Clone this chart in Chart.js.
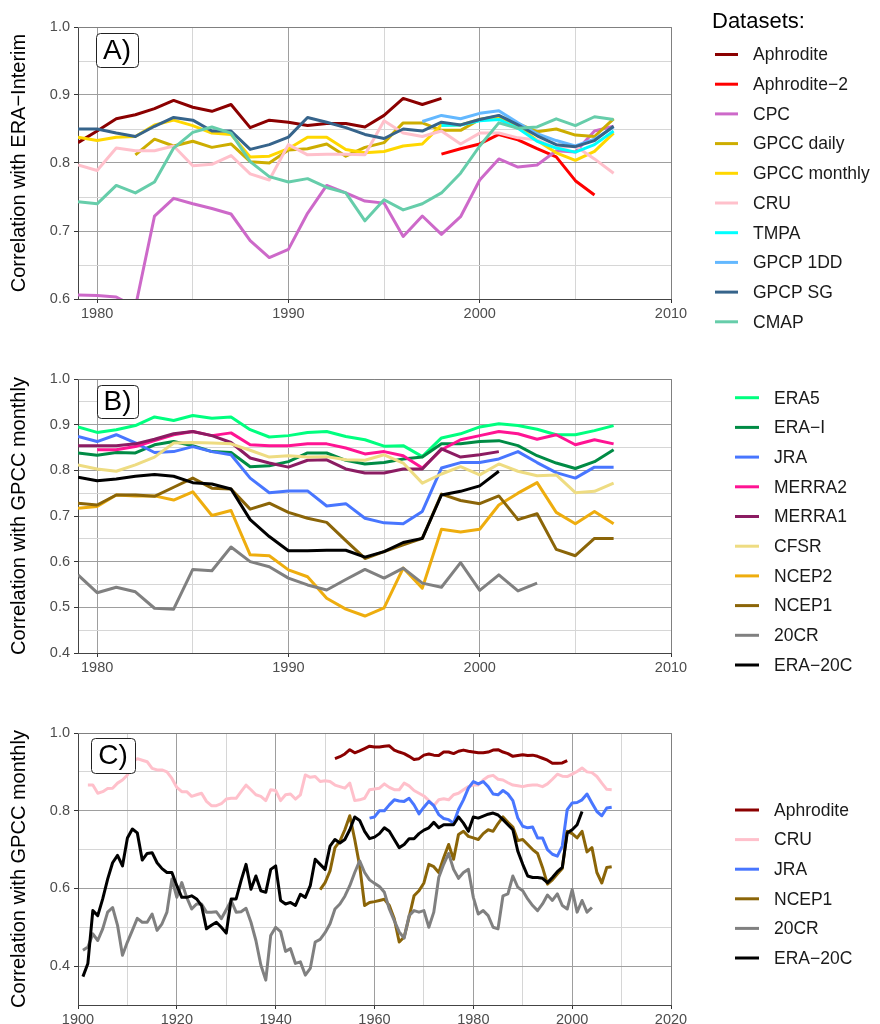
<!DOCTYPE html>
<html><head><meta charset="utf-8">
<script src="https://cdn.jsdelivr.net/npm/chart.js@4.4.1/dist/chart.umd.min.js"></script>
<style>
html,body{margin:0;padding:0;background:#fff;}
#wrap{position:relative;width:880px;height:1024px;overflow:hidden;background:#fff;}
canvas{position:absolute;left:0;}
</style></head><body>
<div id="wrap">
<canvas id="cA" width="880" height="345" style="top:0px;width:880px;height:345px"></canvas>
<canvas id="cB" width="880" height="345" style="top:345px;width:880px;height:345px"></canvas>
<canvas id="cC" width="880" height="334" style="top:690px;width:880px;height:334px"></canvas>
</div>
<script>
// ---------------- DATA ----------------
const yearsAB = [1979,1980,1981,1982,1983,1984,1985,1986,1987,1988,1989,1990,1991,1992,1993,1994,1995,1996,1997,1998,1999,2000,2001,2002,2003,2004,2005,2006,2007];

// Panel A: correlation with ERA-Interim
const A_Aphrodite   = [0.830,0.847,0.865,0.871,0.880,0.892,0.882,0.876,0.886,0.852,0.863,0.860,0.855,0.858,0.858,0.853,0.870,0.895,0.886,0.895,null,null,null,null,null,null,null,null,null];
const A_Aphrodite2  = [null,null,null,null,null,null,null,null,null,null,null,null,null,null,null,null,null,null,null,0.813,0.821,0.828,0.842,0.834,0.821,0.809,0.774,0.753,null];
const A_CPC         = [0.606,0.605,0.603,0.588,0.722,0.748,0.740,0.733,0.725,0.686,0.661,0.673,0.726,0.767,0.756,0.744,0.741,0.692,0.722,0.695,0.721,0.775,0.806,0.794,0.797,0.818,0.816,0.847,0.854];
const A_GPCCdaily   = [null,null,null,0.812,0.835,0.825,0.832,0.823,0.828,0.802,0.800,0.819,0.821,0.828,0.810,0.823,0.830,0.859,0.859,0.848,0.848,0.864,0.869,0.858,0.846,0.850,0.841,0.839,0.865];
const A_GPCCmonthly = [0.838,0.833,0.838,0.839,0.856,0.863,0.855,0.844,0.842,0.809,0.810,0.821,0.838,0.838,0.820,0.815,0.817,0.825,0.828,0.856,0.856,0.864,0.866,0.854,0.833,0.815,0.804,0.817,0.844];
const A_CRU         = [0.797,0.789,0.822,0.818,0.818,0.825,0.796,0.798,0.811,0.784,0.775,0.827,0.812,0.813,0.813,0.812,0.862,0.844,0.839,0.847,0.828,0.844,0.844,0.837,0.834,0.822,0.825,0.806,0.785];
const A_TMPA        = [null,null,null,null,null,null,null,null,null,null,null,null,null,null,null,null,null,null,null,0.855,0.856,0.862,0.864,0.851,0.832,0.822,0.816,0.827,0.847];
const A_GPCP1DD     = [null,null,null,null,null,null,null,null,null,null,null,null,null,null,null,null,null,null,0.861,0.870,0.865,0.873,0.877,0.859,0.843,0.833,0.825,0.835,0.853];
const A_GPCPSG      = [0.850,0.850,0.844,0.839,0.854,0.867,0.863,0.847,0.847,0.820,0.827,0.838,0.867,0.860,0.852,0.842,0.836,0.850,0.847,0.860,0.856,0.864,0.870,0.856,0.840,0.827,0.824,0.833,0.854];
const A_CMAP        = [0.743,0.740,0.767,0.756,0.772,0.822,0.845,0.853,0.844,0.802,0.780,0.772,0.777,0.764,0.756,0.715,0.746,0.731,0.740,0.756,0.785,0.825,0.859,0.851,0.853,0.865,0.855,0.868,0.864];

// Panel B: correlation with GPCC monthly (reanalyses)
const B_ERA5   = [0.895,0.883,0.889,0.898,0.917,0.909,0.920,0.914,0.917,0.889,0.873,0.876,0.883,0.885,0.874,0.867,0.853,0.854,0.830,0.871,0.880,0.895,0.902,0.898,0.890,0.878,0.878,0.887,0.898];
const B_ERAI   = [0.838,0.833,0.839,0.838,0.856,0.863,0.854,0.841,0.839,0.808,0.810,0.819,0.838,0.838,0.822,0.814,0.817,0.825,0.829,0.858,0.858,0.863,0.865,0.854,0.832,0.816,0.804,0.819,0.845];
const B_JRA    = [0.874,0.863,0.878,0.860,0.839,0.841,0.852,0.841,0.834,0.783,0.751,0.755,0.755,0.722,0.727,0.695,0.685,0.683,0.710,0.805,0.817,0.817,0.825,0.841,0.817,0.795,0.783,0.807,0.807];
const B_MERRA2 = [null,0.845,0.845,0.852,0.865,0.878,0.885,0.876,0.882,0.856,0.854,0.854,0.858,0.858,0.849,0.836,0.841,0.832,0.805,0.845,0.867,0.876,0.885,0.880,0.868,0.878,0.856,0.867,0.858];
const B_MERRA1 = [0.854,0.854,0.854,0.858,0.868,0.880,0.885,0.876,0.861,0.827,0.816,0.807,0.822,0.823,0.803,0.794,0.794,0.803,0.803,0.847,0.829,0.834,0.841,null,null,null,null,null,null];
const B_CFSR   = [0.812,0.803,0.798,0.812,0.829,0.860,0.861,0.860,0.858,0.844,0.829,0.832,0.829,0.830,0.823,0.822,0.834,0.816,0.772,0.792,0.808,0.790,0.814,0.798,0.788,0.790,0.751,0.754,0.772];
const B_NCEP2  = [0.717,0.721,0.746,0.744,0.744,0.735,0.753,0.701,0.712,0.615,0.613,0.582,0.567,0.520,0.496,0.481,0.499,0.586,0.542,0.671,0.665,0.671,0.724,0.750,0.773,0.708,0.683,0.710,0.683];
const B_NCEP1  = [0.728,0.724,0.746,0.746,0.743,0.763,0.783,0.761,0.759,0.715,0.728,0.708,0.695,0.686,0.646,0.607,0.622,0.637,0.651,0.748,0.734,0.727,0.744,0.692,0.705,0.627,0.613,0.651,0.651];
const B_20CR   = [0.571,0.532,0.544,0.534,0.498,0.496,0.583,0.580,0.632,0.600,0.589,0.564,0.549,0.538,0.561,0.583,0.564,0.586,0.553,0.544,0.598,0.537,0.571,0.536,0.553,null,null,null,null];
const B_ERA20C = [0.785,0.777,0.781,0.787,0.791,0.787,0.773,0.770,0.759,0.692,0.655,0.624,0.624,0.625,0.625,0.610,0.622,0.642,0.651,0.746,0.754,0.766,0.798,null,null,null,null,null,null];

// Panel C: long records, yearly values, each with its first year
const C_Aphrodite_start = 1952;
const C_Aphrodite = [0.934,0.939,0.946,0.957,0.949,0.954,0.960,0.966,
  0.964,0.964,0.966,0.967,0.956,0.951,0.947,0.940,0.932,0.934,
  0.943,0.946,0.943,0.942,0.951,0.951,0.947,0.953,0.956,0.953,
  0.951,0.949,0.949,0.951,0.956,0.957,0.951,0.947,0.940,0.942,
  0.944,0.942,0.943,0.940,0.935,0.930,0.922,0.922,0.923,0.929];
const C_CRU_start = 1902;
const C_CRU = [0.866,0.866,0.845,0.849,0.857,0.858,0.871,0.879,0.892,
  0.926,0.934,0.930,0.926,0.909,0.905,0.905,0.900,0.883,0.860,
  0.849,0.849,0.837,0.841,0.845,0.824,0.813,0.813,0.818,0.830,
  0.832,0.832,0.849,0.866,0.854,0.841,0.837,0.826,0.854,0.852,
  0.826,0.841,0.843,0.830,0.841,0.892,0.886,0.888,0.875,0.877,
  0.875,0.866,0.862,0.858,0.871,0.826,0.828,0.832,0.854,0.856,
  0.858,0.869,0.860,0.854,0.854,0.871,0.864,0.852,0.845,0.838,
  0.826,0.813,0.828,0.831,0.828,0.841,0.845,0.854,0.862,0.866,
  0.866,0.879,0.888,0.891,0.881,0.879,0.872,0.866,0.864,0.862,
  0.865,0.866,0.866,0.862,0.869,0.881,0.894,0.889,0.888,0.894,
  0.901,0.910,0.900,0.898,0.888,0.871,0.855,0.854];
const C_JRA_start = 1959;
const C_JRA = [0.781,0.784,0.800,0.800,0.815,0.828,0.825,0.824,0.832,0.815,0.792,
  0.809,0.824,0.813,0.790,0.780,0.777,0.768,0.803,0.828,0.858,
  0.875,0.869,0.875,0.862,0.843,0.841,0.852,0.843,0.826,0.781,
  0.760,0.756,0.758,0.730,0.730,0.700,0.688,0.683,0.709,0.803,
  0.820,0.821,0.828,0.843,0.820,0.798,0.787,0.807,0.809];
const C_NCEP1_start = 1949;
const C_NCEP1 = [0.597,0.615,0.645,0.705,0.722,0.751,0.787,0.726,0.658,0.556,0.564,
  0.566,0.569,0.572,0.556,0.522,0.462,0.475,0.526,0.581,0.594,
  0.614,0.662,0.656,0.641,0.679,0.713,0.675,0.739,0.747,0.734,
  0.730,0.726,0.741,0.751,0.747,0.767,0.784,0.770,0.758,0.723,
  0.726,0.713,0.700,0.690,0.654,0.611,0.622,0.637,0.651,0.747,
  0.741,0.730,0.747,0.694,0.705,0.641,0.614,0.654,0.656];
const C_20CR_start = 1901;
const C_20CR = [0.441,0.449,0.483,0.466,0.496,0.539,0.551,0.505,0.428,0.462,
  0.492,0.523,0.513,0.513,0.534,0.492,0.509,0.539,0.624,0.577,
  0.615,0.577,0.547,0.560,0.560,0.539,0.539,0.540,0.522,0.545,
  0.569,0.539,0.540,0.549,0.513,0.466,0.403,0.364,0.479,0.500,
  0.489,0.438,0.445,0.407,0.411,0.377,0.394,0.462,0.469,0.486,
  0.509,0.547,0.560,0.580,0.607,0.641,0.671,0.641,0.622,0.613,
  0.605,0.590,0.547,0.517,0.488,0.472,0.530,0.543,0.539,0.543,
  0.500,0.539,0.628,0.662,0.690,0.649,0.626,0.641,0.649,0.577,
  0.534,0.543,0.530,0.500,0.496,0.581,0.586,0.632,0.603,0.594,
  0.573,0.556,0.543,0.560,0.583,0.569,0.586,0.556,0.547,0.597,
  0.539,0.569,0.539,0.551];
const C_ERA20C_start = 1901;
const C_ERA20C = [0.373,0.407,0.543,0.530,0.573,0.624,0.666,0.685,0.658,0.730,
  0.753,0.743,0.673,0.690,0.692,0.666,0.651,0.641,0.641,0.607,
  0.577,0.577,0.581,0.573,0.556,0.496,0.505,0.513,0.500,0.485,
  0.573,0.573,0.620,0.662,0.598,0.632,0.594,0.590,0.649,0.658,
  0.569,0.560,0.564,0.556,0.585,0.577,0.607,0.675,0.662,0.649,
  0.709,0.726,0.717,0.726,0.751,0.784,0.775,0.747,0.728,0.732,
  0.741,0.756,0.747,0.726,0.705,0.713,0.728,0.728,0.741,0.750,
  0.756,0.770,0.756,0.764,0.764,0.764,0.784,0.768,0.747,0.784,
  0.781,0.786,0.791,0.794,0.789,0.777,0.764,0.751,0.696,0.662,
  0.632,0.628,0.628,0.626,0.615,0.628,0.643,0.654,0.743,0.751,
  0.764,0.798];

// Axis ticks / labels
const ticksAB_x = [1980,1985,1990,1995,2000,2005,2010];
const ticksC_x  = [1900,1910,1920,1930,1940,1950,1960,1970,1980,1990,2000,2010,2020];
const ticksA_y  = [0.6,0.65,0.7,0.75,0.8,0.85,0.9,0.95,1.0];
const ticksB_y  = [0.4,0.45,0.5,0.55,0.6,0.65,0.7,0.75,0.8,0.85,0.9,0.95,1.0];
const ticksC_y  = [0.3,0.4,0.5,0.6,0.7,0.8,0.9,1.0];

// ---------------- RENDERING ----------------
const FONT = "'Liberation Sans', Arial, Helvetica, sans-serif";
const MAJ = '#9e9e9e', MIN = '#d6d6d6';
function isMult(v, step){ const r = v/step; return Math.abs(r - Math.round(r)) < 1e-6; }
function fromYears(years, vals){ return years.map((y,i)=>({x:y, y:vals[i]})); }
function fromStart(start, vals){ return vals.map((v,i)=>({x:start+i, y:v})); }

function decoPlugin(o){
  return { id:'deco', afterDraw(chart){
    const ctx = chart.ctx, a = chart.chartArea;
    ctx.save();
    ctx.strokeStyle = '#808080'; ctx.lineWidth = 1;
    ctx.beginPath();
    ctx.moveTo(a.left, Math.round(a.top)+0.5);
    ctx.lineTo(Math.round(a.right)+0.5, Math.round(a.top)+0.5);
    ctx.lineTo(Math.round(a.right)+0.5, a.bottom);
    ctx.stroke();
    // panel tag
    const b = o.box;
    ctx.fillStyle = '#fff'; ctx.strokeStyle = '#222'; ctx.lineWidth = 1;
    ctx.beginPath();
    if (ctx.roundRect) ctx.roundRect(b.x+0.5, b.y+0.5, b.w, b.h, 4); else ctx.rect(b.x+0.5, b.y+0.5, b.w, b.h);
    ctx.fill(); ctx.stroke();
    ctx.fillStyle = '#000'; ctx.font = '28px ' + FONT; ctx.textAlign = 'center'; ctx.textBaseline = 'middle';
    ctx.fillText(o.tag, b.x + b.w/2, b.y + b.h/2 + 1);
    // legend
    const L = o.legend;
    if (L.title){
      ctx.font = '22px ' + FONT; ctx.textAlign = 'left'; ctx.fillStyle = '#000';
      ctx.fillText(L.title, L.titleX, L.titleY);
    }
    ctx.font = '17.5px ' + FONT; ctx.textAlign = 'left'; ctx.textBaseline = 'middle';
    o.series.forEach((s,i)=>{
      const y = L.y0 + i*L.dy;
      ctx.strokeStyle = s.color; ctx.lineWidth = 3; ctx.lineCap = 'butt';
      ctx.beginPath(); ctx.moveTo(L.lx0, y); ctx.lineTo(L.lx1, y); ctx.stroke();
      ctx.fillStyle = '#1a1a1a';
      ctx.fillText(s.name, L.tx, y + 1);
    });
    ctx.restore();
  }};
}

function makeChart(id, o){
  const datasets = o.series.map((s,i)=>({
    label: s.name, data: s.points, borderColor: s.color, backgroundColor: s.color,
    borderWidth: 3, pointRadius: 0, tension: 0, fill: false, spanGaps: false,
    order: -i, borderJoinStyle: 'round', borderCapStyle: 'butt'
  }));
  return new Chart(document.getElementById(id), {
    type: 'line',
    data: { datasets },
    options: {
      responsive: false, animation: false, events: [], devicePixelRatio: 1,
      layout: { padding: { left: 0, right: 880 - 671, top: o.top, bottom: o.padBottom } },
      plugins: { legend: { display: false }, tooltip: { enabled: false } },
      scales: {
        x: {
          type: 'linear', min: o.xMin, max: o.xMax,
          afterBuildTicks: s => { s.ticks = o.xTicks.map(v => ({ value: v })); },
          afterFit: s => { s.height = o.xH; },
          ticks: { autoSkip: false, maxRotation: 0, minRotation: 0, padding: 2, color: '#4d4d4d',
                   font: { family: FONT, size: 14.5 },
                   callback: v => isMult(v, o.xStep) ? String(v) : '' },
          grid: { color: c => isMult(c.tick.value, o.xStep) ? MAJ : MIN, lineWidth: 1, tickLength: 4,
                  tickColor: c => isMult(c.tick.value, o.xStep) ? '#333' : 'rgba(0,0,0,0)' },
          border: { display: true, color: '#444', width: 1 }
        },
        y: {
          type: 'linear', min: o.yMin, max: o.yMax,
          afterBuildTicks: s => { s.ticks = o.yTicks.map(v => ({ value: v })); },
          afterFit: s => { s.width = 78; },
          title: { display: true, text: o.yTitle, color: '#000', font: { family: FONT, size: 20 },
                   padding: { top: 7, bottom: 0 } },
          ticks: { autoSkip: false, padding: 4, color: '#4d4d4d', font: { family: FONT, size: 14.5 },
                   callback: v => isMult(v, o.yStep) ? Number(v).toFixed(1) : '' },
          grid: { color: c => isMult(c.tick.value, o.yStep) ? MAJ : MIN, lineWidth: 1, tickLength: 4,
                  tickColor: c => isMult(c.tick.value, o.yStep) ? '#333' : 'rgba(0,0,0,0)' },
          border: { display: true, color: '#444', width: 1 }
        }
      }
    },
    plugins: [decoPlugin(o)]
  });
}

// Panel A
const seriesA = [
  { name: 'Aphrodite',      color: '#8B0000', points: fromYears(yearsAB, A_Aphrodite) },
  { name: 'Aphrodite\u22122', color: '#FF0000', points: fromYears(yearsAB, A_Aphrodite2) },
  { name: 'CPC',            color: '#CD69C9', points: fromYears(yearsAB, A_CPC) },
  { name: 'GPCC daily',     color: '#CDAD00', points: fromYears(yearsAB, A_GPCCdaily) },
  { name: 'GPCC monthly',   color: '#FFD700', points: fromYears(yearsAB, A_GPCCmonthly) },
  { name: 'CRU',            color: '#FFC0CB', points: fromYears(yearsAB, A_CRU) },
  { name: 'TMPA',           color: '#00FFFF', points: fromYears(yearsAB, A_TMPA) },
  { name: 'GPCP 1DD',       color: '#63B8FF', points: fromYears(yearsAB, A_GPCP1DD) },
  { name: 'GPCP SG',        color: '#36648B', points: fromYears(yearsAB, A_GPCPSG) },
  { name: 'CMAP',           color: '#66CDAA', points: fromYears(yearsAB, A_CMAP) }
];
makeChart('cA', {
  series: seriesA, top: 27, xH: 30, padBottom: 345 - 299 - 30,
  xMin: 1979, xMax: 2010, xTicks: ticksAB_x, xStep: 10,
  yMin: 0.6, yMax: 1.0, yTicks: ticksA_y, yStep: 0.1,
  yTitle: 'Correlation with ERA\u2212Interim', tag: 'A)',
  box: { x: 96, y: 33, w: 42, h: 34 },
  legend: { title: 'Datasets:', titleX: 712, titleY: 22, y0: 54.5, dy: 29.7, lx0: 715, lx1: 738, tx: 753 }
});

// Panel B
const seriesB = [
  { name: 'ERA5',        color: '#00FF7F', points: fromYears(yearsAB, B_ERA5) },
  { name: 'ERA\u2212I',  color: '#008B45', points: fromYears(yearsAB, B_ERAI) },
  { name: 'JRA',         color: '#4876FF', points: fromYears(yearsAB, B_JRA) },
  { name: 'MERRA2',      color: '#FF1493', points: fromYears(yearsAB, B_MERRA2) },
  { name: 'MERRA1',      color: '#8B1C62', points: fromYears(yearsAB, B_MERRA1) },
  { name: 'CFSR',        color: '#EEDC82', points: fromYears(yearsAB, B_CFSR) },
  { name: 'NCEP2',       color: '#EEAD0E', points: fromYears(yearsAB, B_NCEP2) },
  { name: 'NCEP1',       color: '#8B6508', points: fromYears(yearsAB, B_NCEP1) },
  { name: '20CR',        color: '#808080', points: fromYears(yearsAB, B_20CR) },
  { name: 'ERA\u221220C', color: '#000000', points: fromYears(yearsAB, B_ERA20C) }
];
makeChart('cB', {
  series: seriesB, top: 34, xH: 30, padBottom: 345 - 308 - 30,
  xMin: 1979, xMax: 2010, xTicks: ticksAB_x, xStep: 10,
  yMin: 0.4, yMax: 1.0, yTicks: ticksB_y, yStep: 0.1,
  yTitle: 'Correlation with GPCC monthly', tag: 'B)',
  box: { x: 97, y: 40, w: 41, h: 33 },
  legend: { title: null, y0: 52.7, dy: 29.7, lx0: 735, lx1: 759, tx: 774 }
});

// Panel C
const seriesC = [
  { name: 'Aphrodite',    color: '#8B0000', points: fromStart(C_Aphrodite_start, C_Aphrodite) },
  { name: 'CRU',          color: '#FFC0CB', points: fromStart(C_CRU_start, C_CRU) },
  { name: 'JRA',          color: '#4876FF', points: fromStart(C_JRA_start, C_JRA) },
  { name: 'NCEP1',        color: '#8B6508', points: fromStart(C_NCEP1_start, C_NCEP1) },
  { name: '20CR',         color: '#808080', points: fromStart(C_20CR_start, C_20CR) },
  { name: 'ERA\u221220C', color: '#000000', points: fromStart(C_ERA20C_start, C_ERA20C) }
];
makeChart('cC', {
  series: seriesC, top: 43, xH: 19, padBottom: 334 - 315 - 19,
  xMin: 1900, xMax: 2020, xTicks: ticksC_x, xStep: 20,
  yMin: 0.3, yMax: 1.0, yTicks: ticksC_y, yStep: 0.2,
  yTitle: 'Correlation with GPCC monthly', tag: 'C)',
  box: { x: 91, y: 48, w: 44, h: 35 },
  legend: { title: null, y0: 120, dy: 29.6, lx0: 735, lx1: 759, tx: 774 }
});
</script>
</body></html>
